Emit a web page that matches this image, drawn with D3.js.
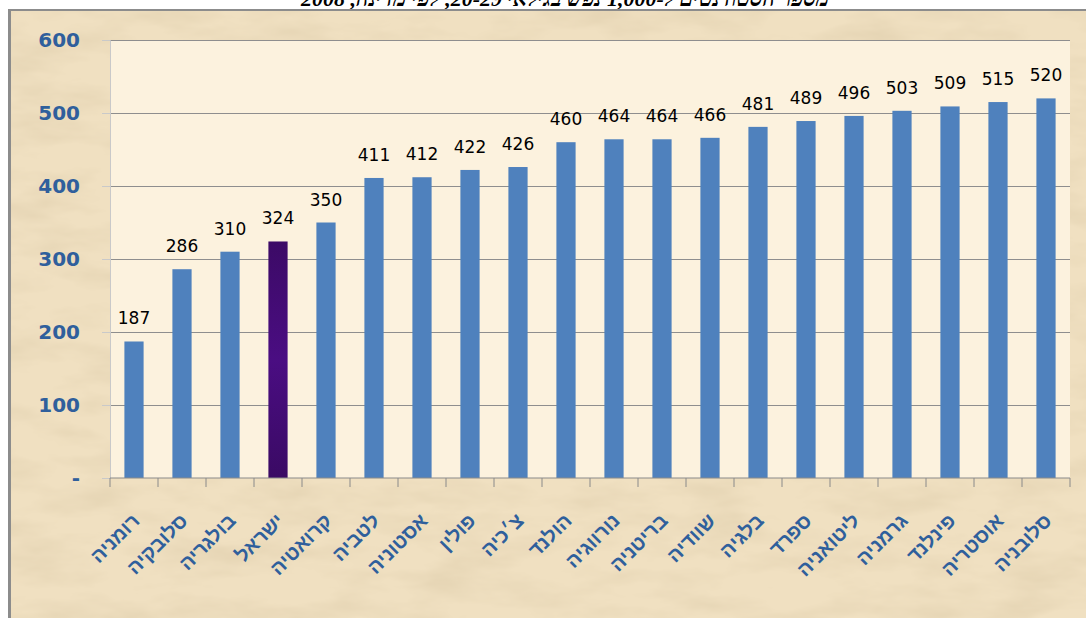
<!DOCTYPE html>
<html>
<head>
<meta charset="utf-8">
<script src="https://cdn.jsdelivr.net/npm/d3@7"></script>
<style>
  body { margin: 0; background: #fff; }
  svg { display: block; }
</style>
</head>
<body>
<svg id="plot"></svg>
<script>
// data
countries = ["רומניה", "סלובקיה", "בולגריה", "ישראל", "קרואטיה", "לטביה", "אסטוניה", "פולין", "צ׳כיה", "הולנד",
             "נורווגיה", "בריטניה", "שוודיה", "בלגיה", "ספרד", "ליטואניה", "גרמניה", "פינלנד", "אוסטריה", "סלובניה"];
values = [187, 286, 310, 324, 350, 411, 412, 422, 426, 460, 464, 464, 466, 481, 489, 496, 503, 509, 515, 520];
highlight = "ישראל";
yTicks = [0, 100, 200, 300, 400, 500, 600];
titleText = "מספר הסטודנטים ל-1,000 נפש בגילאי 20-29, לפי מדינה, 2008";

svgWidth = 1086;
svgHeight = 618;
margin = {top: 40, right: 16, bottom: 140, left: 110};

const svg = d3.select("#plot")
    .attr("width", svgWidth)
    .attr("height", svgHeight);

// parchment texture
const defs = svg.append("defs");
const paper = defs.append("filter").attr("id", "paper")
    .attr("x", 0).attr("y", 0).attr("width", 1).attr("height", 1);
paper.append("feTurbulence")
    .attr("type", "fractalNoise")
    .attr("baseFrequency", "0.012 0.035")
    .attr("numOctaves", 4)
    .attr("seed", 7);
paper.append("feColorMatrix")
    .attr("type", "matrix")
    .attr("values", "0 0 0 0 0.72  0 0 0 0 0.60  0 0 0 0 0.40  1.1 0 0 0 -0.45");

const purple = defs.append("linearGradient").attr("id", "purple")
    .attr("x1", 0).attr("y1", 0).attr("x2", 0).attr("y2", 1);
purple.append("stop").attr("offset", "0%").attr("stop-color", "#3c0a66");
purple.append("stop").attr("offset", "50%").attr("stop-color", "#4a0d82");
purple.append("stop").attr("offset", "100%").attr("stop-color", "#3a0a64");

// title, mostly clipped at the top edge (as in the source)
svg.append("text")
    .text(titleText)
    .attr("x", 565)
    .attr("y", 6)
    .attr("text-anchor", "middle")
    .attr("direction", "rtl")
    .attr("font-family", "Liberation Serif")
    .attr("font-weight", "bold")
    .attr("font-style", "italic")
    .attr("font-size", 22)
    .attr("fill", "black");

svg.append("rect")
    .attr("x", 11).attr("y", 11)
    .attr("width", svgWidth - 11).attr("height", svgHeight - 11)
    .attr("fill", "#f0e0c1");
svg.append("rect")
    .attr("x", 11).attr("y", 11)
    .attr("width", svgWidth - 11).attr("height", svgHeight - 11)
    .attr("filter", "url(#paper)");

// frame
svg.append("rect").attr("x", 8).attr("y", 9).attr("width", svgWidth - 8).attr("height", 2).attr("fill", "#8c8c8c");
svg.append("rect").attr("x", 8).attr("y", 9).attr("width", 3).attr("height", svgHeight - 9).attr("fill", "#8c8c8c");

// scales
x = d3.scaleBand()
    .domain(countries)
    .range([margin.left, svgWidth - margin.right])
    .paddingInner(0.6)
    .paddingOuter(0.3);

y = d3.scaleLinear()
    .domain([0, 600])
    .range([svgHeight - margin.bottom, margin.top]);

const plotW = svgWidth - margin.right - margin.left;

// plot area
svg.append("rect")
    .attr("x", margin.left)
    .attr("y", y(600))
    .attr("width", plotW)
    .attr("height", y(0) - y(600))
    .attr("fill", "#fcf2de");

// gridlines
svg.append("g")
    .attr("transform", `translate(${margin.left},0)`)
    .call(d3.axisLeft(y).tickValues(yTicks.slice(1)).tickSize(-plotW).tickFormat(""))
    .call(g => g.select(".domain").remove())
    .call(g => g.selectAll("line").attr("stroke", "#8e8e8e"));

// y axis
svg.append("g")
    .attr("transform", `translate(${margin.left},0)`)
    .call(d3.axisLeft(y).tickValues(yTicks).tickSize(8).tickPadding(22)
        .tickFormat(d => d === 0 ? "-" : d))
    .call(g => g.select(".domain").attr("stroke", "#c9c9c9"))
    .call(g => g.selectAll("line").attr("stroke", "#c9c9c9"))
    .call(g => g.selectAll("text")
        .attr("font-family", "DejaVu Sans")
        .attr("font-weight", "bold")
        .attr("font-size", 20)
        .attr("fill", "#2f5f9c"));

// bars
svg.append("g")
    .selectAll("rect")
    .data(values)
    .join("rect")
    .attr("x", (d, i) => x(countries[i]))
    .attr("y", d => y(d))
    .attr("width", x.bandwidth())
    .attr("height", d => y(0) - y(d))
    .attr("fill", (d, i) => countries[i] === highlight ? "url(#purple)" : "#4f81bd");

// value labels
svg.append("g")
    .selectAll("text")
    .data(values)
    .join("text")
    .text(d => d)
    .attr("x", (d, i) => x(countries[i]) + x.bandwidth() / 2)
    .attr("y", d => y(d) - 17)
    .attr("text-anchor", "middle")
    .attr("font-family", "DejaVu Sans")
    .attr("font-size", 17)
    .attr("fill", "black");

// x axis line and ticks at category boundaries
const xAxis = svg.append("g");
xAxis.append("line")
    .attr("x1", margin.left).attr("x2", svgWidth - margin.right)
    .attr("y1", y(0)).attr("y2", y(0))
    .attr("stroke", "#8a8a8a");
xAxis.selectAll("line.tick")
    .data(countries.concat(["end"]))
    .join("line")
    .attr("class", "tick")
    .attr("x1", (d, i) => margin.left + i * x.step())
    .attr("x2", (d, i) => margin.left + i * x.step())
    .attr("y1", y(0))
    .attr("y2", y(0) + 9)
    .attr("stroke", "#8a8a8a");

// category labels
xAxis.selectAll("text")
    .data(countries)
    .join("text")
    .text(d => d)
    .attr("transform", d => `translate(${x(d) + x.bandwidth() / 2 + 7},${y(0) + 44}) rotate(-45)`)
    .attr("text-anchor", "end")
    .attr("font-family", "Liberation Sans")
    .attr("font-weight", "bold")
    .attr("font-size", 20)
    .attr("fill", "#2f5f9c");
</script>
</body>
</html>
